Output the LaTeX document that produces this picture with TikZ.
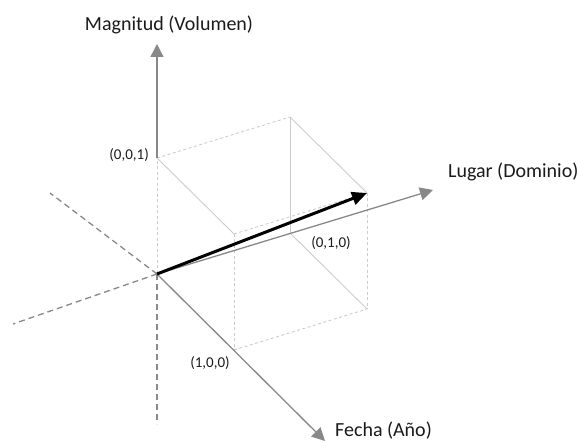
\documentclass[tikz,border=0pt]{standalone}
\usepackage{fontspec}
\setmainfont{Carlito}
\usetikzlibrary{arrows.meta}
\definecolor{axisgray}{HTML}{888888}
\definecolor{cubegray}{HTML}{CCCCCC}
\definecolor{txt}{HTML}{1A1A1A}
\tikzset{
  axisline/.style={draw=axisgray, line width=1.3pt, -{Triangle[length=13pt,width=13pt]}},
  negaxis/.style={draw=axisgray, line width=1.3pt, dash pattern=on 6pt off 4pt},
  cubesolid/.style={draw=cubegray, line width=0.9pt},
  cubedash/.style={draw=cubegray, line width=0.9pt, dash pattern=on 3pt off 2.5pt},
  vec/.style={draw=black, line width=3pt, -{Triangle[length=15pt,width=13pt]}},
  bigtxt/.style={font=\fontsize{20}{24}\selectfont, text=txt, inner sep=0pt},
  smalltxt/.style={font=\fontsize{15}{18}\selectfont, text=txt, inner sep=0pt}
}
\begin{document}
\begin{tikzpicture}[x=1pt,y=-1pt]
\useasboundingbox (0,0) rectangle (579,443);
% cube vertices
\coordinate (O) at (157,274);
\coordinate (Z1) at (157,158);
\coordinate (Y1) at (290,233);
\coordinate (X1) at (234,350);
\coordinate (XY) at (367,309);
\coordinate (YZ) at (290,117);
\coordinate (XZ) at (234,234);
\coordinate (XYZ) at (367,193);
% axis ends
\coordinate (nx) at (50,193);
\coordinate (ny) at (13,324);
\coordinate (nz) at (157,424);
\coordinate (tz) at (157,44);
\coordinate (ty) at (433,190);
\coordinate (tx) at (325,441);
% cube
\draw[cubedash] (Z1) -- (YZ);
\draw[cubesolid] (YZ) -- (XYZ);
\draw[cubesolid] (Z1) -- (XZ);
\draw[cubedash] (XZ) -- (XYZ);
\draw[cubesolid] (YZ) -- (Y1);
\draw[cubedash] (XZ) -- (X1);
\draw[cubedash] (XYZ) -- (XY);
\draw[cubedash] (O) -- (Z1);
\draw[cubedash] (X1) -- (XY);
\draw[cubesolid] (Y1) -- (XY);
% negative axes
\draw[negaxis] (O) -- (nx);
\draw[negaxis] (O) -- (ny);
\draw[negaxis] (O) -- (nz);
% axes
\draw[axisline] (Z1) -- (tz);
\draw[axisline] (O) -- (ty);
\draw[axisline] (O) -- (tx);
% vector
\draw[vec] (O) -- (XYZ);
% labels
\node[bigtxt] (lz) at (169,25) {Magnitud (Volumen)};
\node[bigtxt, anchor=west] (ly) at (448,172) {Lugar (Dominio)};
\node[bigtxt, anchor=west] (lx) at (335,431) {Fecha (Año)};
\node[smalltxt, anchor=east] (l001) at (149,155) {(0,0,1)};
\node[smalltxt] (l010) at (331,243) {(0,1,0)};
\node[smalltxt] (l100) at (210,363) {(1,0,0)};
\end{tikzpicture}
\end{document}
